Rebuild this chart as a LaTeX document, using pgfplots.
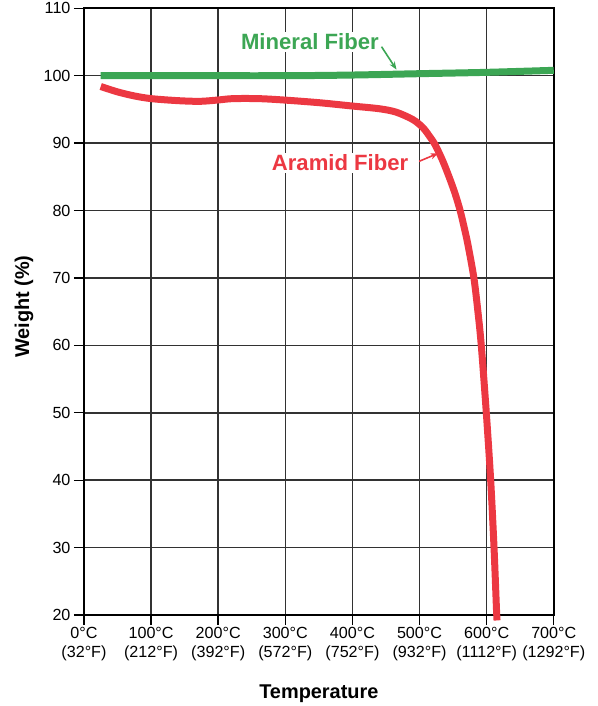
\documentclass[border=0pt]{standalone}
\usepackage{fontspec}
\setmainfont{Liberation Sans}
\usepackage{pgfplots}
\pgfplotsset{compat=1.18}
\usetikzlibrary{arrows.meta}
\definecolor{mgreen}{RGB}{60,166,84}
\definecolor{ared}{RGB}{236,56,66}
\definecolor{gridc}{RGB}{50,50,50}
\begin{document}
\begin{tikzpicture}
\begin{axis}[
  scale only axis, width=470bp, height=607bp,
  xmin=0, xmax=700, ymin=20, ymax=110,
  clip=false,
  xtick={0,100,200,300,400,500,600,700},
  ytick={20,30,40,50,60,70,80,90,100,110},
  xticklabels={{0°C\\(32°F)},{100°C\\(212°F)},{200°C\\(392°F)},{300°C\\(572°F)},{400°C\\(752°F)},{500°C\\(932°F)},{600°C\\(1112°F)},{700°C\\(1292°F)}},
  xtick pos=bottom, ytick pos=left,
  tick align=outside, major tick length=10bp,
  /pgf/number format/assume math mode=true,
  xticklabel style={align=center, font=\fontsize{16.2}{19}\selectfont, yshift=1bp},
  yticklabel style={font=\fontsize{16.2}{18}\selectfont},
  grid=major, grid style={gridc, line width=1.5bp},
  axis line style={black, line width=1.6bp},
  tick style={black, line width=1.4bp},
]
\addplot[mgreen, line width=7bp, smooth] coordinates {
(25,100.0) (150,100.0) (300,100.0) (400,100.1) (500,100.3) (600,100.5) (700,100.8)
};
\addplot[ared, line width=7bp, smooth] coordinates {
(25,98.4) (50,97.6) (75,97.0) (100,96.6) (140,96.3) (173,96.2) (200,96.4) (222,96.6)
(260,96.6) (297,96.4) (350,96.0) (400,95.5) (440,95.1) (465,94.6) (490,93.5)
(505,92.3) (515,91.0) (523,89.8) (534,87.5) (544,85) (553,82.5) (560.5,80) (566.5,77.5) (572,75)
(581,70) (587,65) (592,60) (599.5,50) (606,40) (611,30) (614.6,21) (615.5,19.2)
};
\node[fill=white, inner sep=2bp, text=mgreen, font=\bfseries\fontsize{22.2}{25}\selectfont] at (axis cs:336.6,105.05) {Mineral Fiber};
\node[fill=white, inner sep=2bp, anchor=east, text=ared, font=\bfseries\fontsize{22.2}{25}\selectfont] at (axis cs:486.5,87.1) {Aramid Fiber};
\draw[mgreen, line width=1.6bp, -{Stealth[length=8bp,width=6bp]}] (axis cs:443.4,104.3) -- (axis cs:465.7,100.9);
\draw[ared, line width=1.6bp, -{Stealth[length=8bp,width=6bp]}] (axis cs:499.4,87.3) -- (axis cs:528,88.5);
\node[font=\bfseries\fontsize{20}{22}\selectfont] at ([yshift=-79bp]rel axis cs:0.5,0) {Temperature};
\node[rotate=90, font=\bfseries\fontsize{20}{22}\selectfont] at ([xshift=-60bp,yshift=5bp]rel axis cs:0,0.5) {Weight (\%)};
\coordinate (bbSW) at ([xshift=-84bp,yshift=-91bp]rel axis cs:0,0);
\coordinate (bbNE) at ([xshift=44bp,yshift=8.3bp]rel axis cs:1,1);
\end{axis}
\pgfresetboundingbox
\path[use as bounding box] (bbSW) rectangle (bbNE);
\end{tikzpicture}
\end{document}
